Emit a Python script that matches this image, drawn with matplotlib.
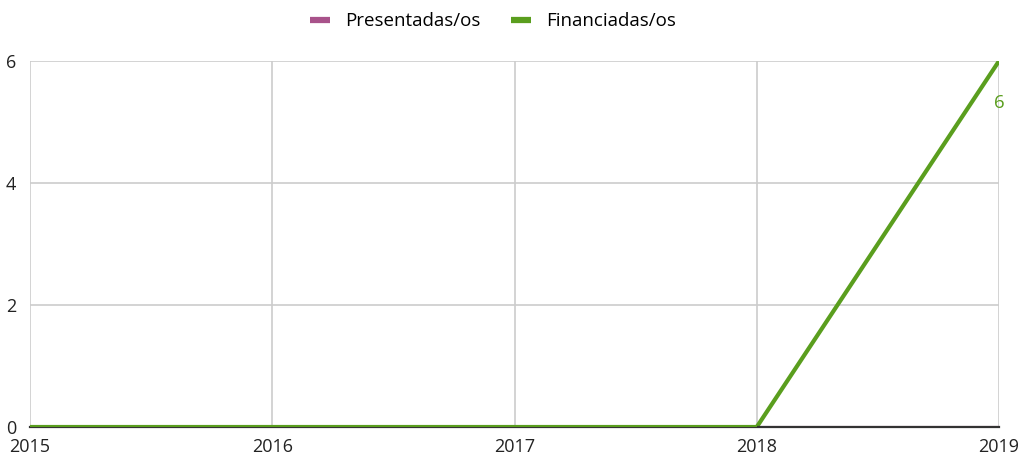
import matplotlib.pyplot as plt

years = [2015, 2016, 2017, 2018, 2019]
presentadas = [0, 0, 0, 0, 0]
financiadas = [0, 0, 0, 0, 6]
y_ticks = [0, 2, 4, 6]

c_pres = '#a8528a'
c_fin = '#5a9e1e'

plt.rcParams['font.family'] = ['Open Sans', 'DejaVu Sans']

fig = plt.figure(figsize=(10.26, 4.59), dpi=100)
ax = fig.add_axes([30/1026, 32/459, 969/1026, 366/459])

# presentadas stays at 0, hidden under the axis line
ax.plot(years, presentadas, color=c_pres, lw=1.5, label='Presentadas/os', zorder=1.5)
ax.plot(years[:4], financiadas[:4], color=c_fin, lw=3, zorder=4, solid_capstyle='butt')
ax.plot(years[3:], financiadas[3:], color=c_fin, lw=3, zorder=2.6, label='Financiadas/os')

ax.annotate(str(financiadas[-1]), (years[-1], financiadas[-1]), xytext=(0, -37),
            textcoords='offset points', ha='center', va='bottom',
            color=c_fin, fontsize=13.5)

ax.set_xlim(years[0], years[-1])
ax.set_ylim(0, 6)
ax.set_xticks(years)
ax.set_yticks(y_ticks)
ax.grid(True, color='#cccccc', lw=1.2)
ax.set_axisbelow(True)
for s in ['top', 'right', 'left']:
    ax.spines[s].set_visible(False)
ax.spines['bottom'].set_color('#333333')
ax.spines['bottom'].set_linewidth(1.6)
ax.spines['bottom'].set_zorder(3)
ax.tick_params(length=0, labelsize=13, colors='#222222')
ax.tick_params(axis='x', pad=8)
ax.tick_params(axis='y', pad=10)

leg = fig.legend(loc='upper center', bbox_to_anchor=(493/1026, 1.01), ncol=2,
                 frameon=False, fontsize=13.5, handlelength=1.1,
                 columnspacing=1.6, handletextpad=0.8)
for h in leg.get_lines():
    h.set_linewidth(4.5)
    h.set_solid_capstyle('butt')

fig.savefig('out.png', dpi=100)
